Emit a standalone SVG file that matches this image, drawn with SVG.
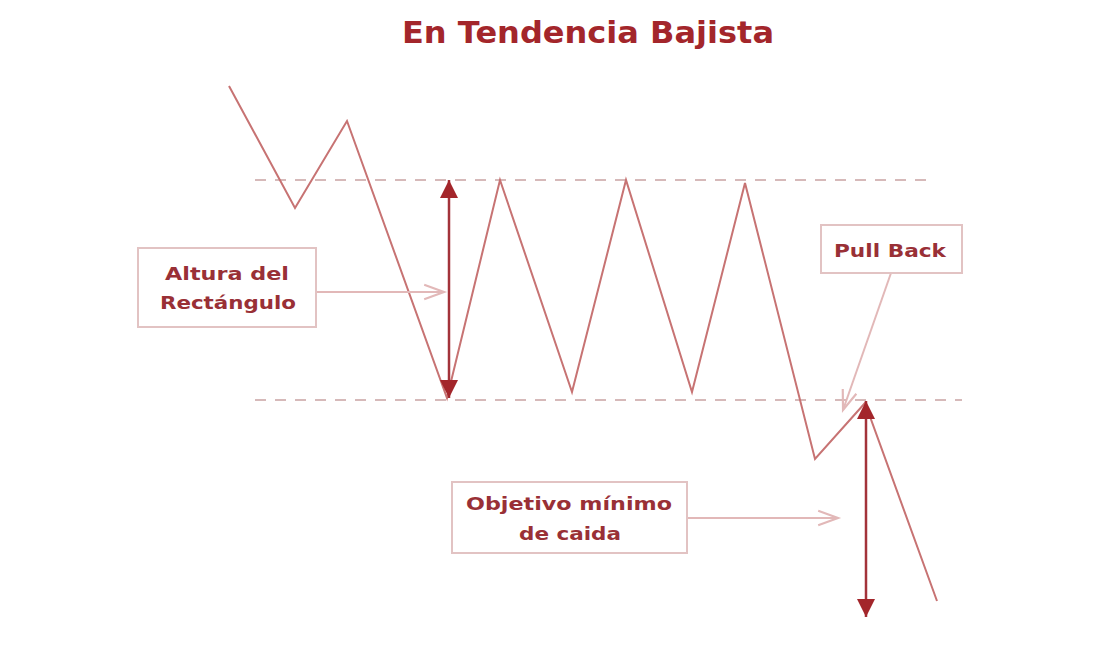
<svg xmlns="http://www.w3.org/2000/svg" width="1107" height="655" viewBox="0 0 1107 655">
<style>
.title{font-family:"DejaVu Sans","Liberation Sans",sans-serif;font-weight:bold;font-size:30px;fill:#a3262b}
.lbl{font-family:"DejaVu Sans","Liberation Sans",sans-serif;font-weight:bold;font-size:18px;fill:#993036;text-anchor:middle}
.box{fill:#fff;stroke:#e2c3c3;stroke-width:2}
.dash{stroke:#c9a3a3;stroke-width:1.6;stroke-dasharray:11 9;fill:none}
.price{stroke:#c77373;stroke-width:2;fill:none;stroke-linejoin:miter}
.dbl{stroke:#a3333a;stroke-width:2.5;fill:none}
.pointer{stroke:#e2b8b8;stroke-width:2;fill:none}
</style>
<defs>
<marker id="solid" viewBox="0 0 10 10" refX="10" refY="5" markerWidth="20" markerHeight="18" markerUnits="userSpaceOnUse" orient="auto-start-reverse">
<path d="M0,0 L10,5 L0,10 Z" fill="#a3262b"/>
</marker>
<marker id="open" viewBox="0 0 12 10" refX="11" refY="5" markerWidth="28" markerHeight="18" markerUnits="userSpaceOnUse" orient="auto">
<path d="M0,1 L11,5 L0,9" fill="none" stroke="#e2b8b8" stroke-width="1.2"/>
</marker>
</defs>
<rect width="1107" height="655" fill="#fff"/>
<text class="title" x="588" y="43" text-anchor="middle" textLength="372" lengthAdjust="spacingAndGlyphs">En Tendencia Bajista</text>
<g id="connectors">
<line class="dash" x1="255" y1="180" x2="932" y2="180"/>
<line class="dash" x1="255" y1="400" x2="962" y2="400"/>
<polyline class="price" points="229,86 295,208 347,121 447,398 500,180 572,392 626,180 692,392 745,183 815,459 865,403 937,601"/>
<line class="dbl" x1="449" y1="180" x2="449" y2="398" marker-start="url(#solid)" marker-end="url(#solid)"/>
<line class="dbl" x1="866" y1="401" x2="866" y2="617" marker-start="url(#solid)" marker-end="url(#solid)"/>
<line class="pointer" x1="316" y1="292" x2="444" y2="292" marker-end="url(#open)"/>
<line class="pointer" x1="891" y1="273" x2="843" y2="410" marker-end="url(#open)"/>
<line class="pointer" x1="687" y1="518" x2="838" y2="518" marker-end="url(#open)"/>
</g>
<g id="altura">
<rect class="box" x="138" y="248" width="178" height="79"/>
<text class="lbl" x="227" y="280" textLength="124" lengthAdjust="spacingAndGlyphs">Altura del</text>
<text class="lbl" x="228" y="309" textLength="136" lengthAdjust="spacingAndGlyphs">Rectángulo</text>
</g>
<g id="pullback">
<rect class="box" x="821" y="225" width="141" height="48"/>
<text class="lbl" x="890" y="257" textLength="112" lengthAdjust="spacingAndGlyphs">Pull Back</text>
</g>
<g id="objetivo">
<rect class="box" x="452" y="482" width="235" height="71"/>
<text class="lbl" x="569" y="510" textLength="206" lengthAdjust="spacingAndGlyphs">Objetivo mínimo</text>
<text class="lbl" x="570" y="540" textLength="102" lengthAdjust="spacingAndGlyphs">de caida</text>
</g>
</svg>
